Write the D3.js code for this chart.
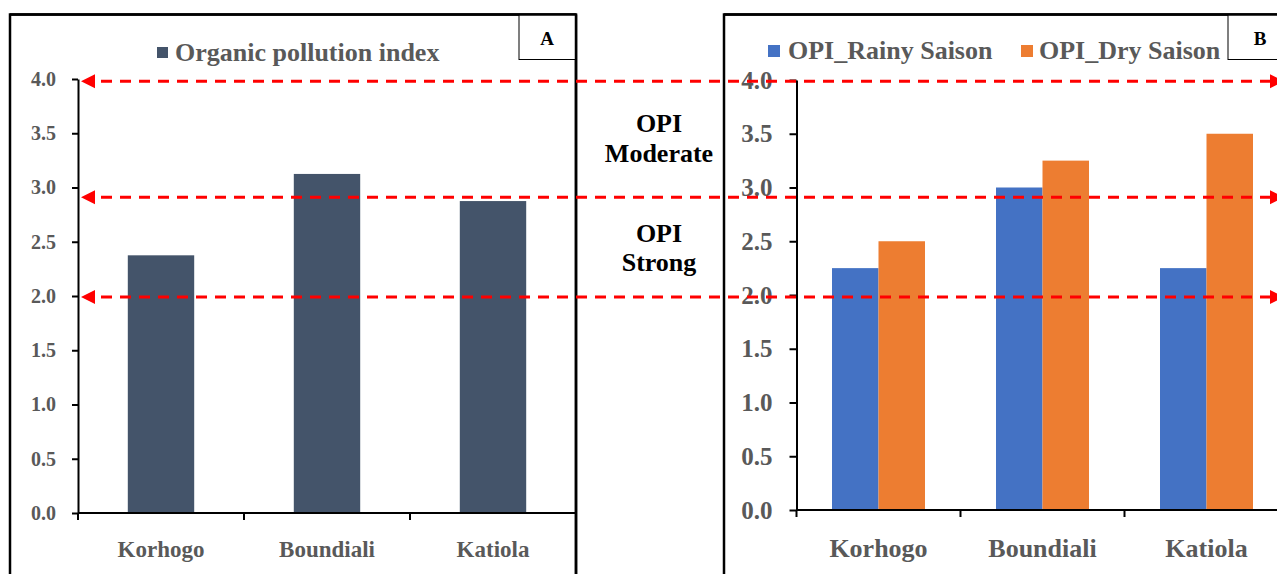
<!DOCTYPE html>
<html>
<head>
<meta charset="utf-8">
<script src="https://cdn.jsdelivr.net/npm/d3@7"></script>
<style>
  html, body { margin: 0; padding: 0; background: #fff; }
  svg { display: block; font-family: "Liberation Serif", "Times New Roman", serif; font-weight: bold; }
</style>
</head>
<body>
<svg id="chart" width="1277" height="574"></svg>
<script>
// ---- data ----
const categories = ["Korhogo", "Boundiali", "Katiola"];
const opiValues = [2.375, 3.125, 2.875];          // panel A
const rainyValues = [2.25, 3.0, 2.25];            // panel B
const drySeasonValues = [2.5, 3.25, 3.5];         // panel B
const seriesNames = ["OPI_Rainy Saison", "OPI_Dry Saison"];
const yTicks = [0, 0.5, 1, 1.5, 2, 2.5, 3, 3.5, 4];
const thresholds = [3.98, 2.91, 1.99];            // red dashed class limits
const zoneLabels = [["OPI", "Moderate"], ["OPI", "Strong"]];
const panelLetters = ["A", "B"];

const gray = "#595959";
const colA = "#44546A";
const colB = ["#4472C4", "#ED7D31"];

const svg = d3.select("#chart");

// ---- frames ----
svg.append("rect").attr("x", 10).attr("y", 14.5).attr("width", 566).attr("height", 600)
  .attr("fill", "none").attr("stroke", "#000").attr("stroke-width", 2.5);
svg.append("rect").attr("x", 724).attr("y", 14.5).attr("width", 600).attr("height", 600)
  .attr("fill", "none").attr("stroke", "#000").attr("stroke-width", 2.5);

// letter boxes
[[519, 547, 57], [1228, 1260, 60]].forEach((b, i) => {
  svg.append("rect").attr("x", b[0]).attr("y", 14.5).attr("width", b[2]).attr("height", 45)
    .attr("fill", "#fff").attr("stroke", "#000").attr("stroke-width", 1);
  svg.append("text").attr("x", b[1]).attr("y", 45).attr("text-anchor", "middle")
    .style("font-size", "19px").attr("fill", "#000").text(panelLetters[i]);
});
// redraw frame edges over boxes
svg.append("line").attr("x1", 10).attr("x2", 576).attr("y1", 14.5).attr("y2", 14.5).attr("stroke", "#000").attr("stroke-width", 2.5);
svg.append("line").attr("x1", 724).attr("x2", 1277).attr("y1", 14.5).attr("y2", 14.5).attr("stroke", "#000").attr("stroke-width", 2.5);
svg.append("line").attr("x1", 576).attr("x2", 576).attr("y1", 14.5).attr("y2", 574).attr("stroke", "#000").attr("stroke-width", 2.5);

// ---- panel A ----
const yA = d3.scaleLinear().domain([0, 4]).range([513, 79]);
const xA = d3.scaleBand().domain(categories).range([78, 576]).paddingInner(0.6).paddingOuter(0.3);

const gA = svg.append("g");
gA.selectAll("rect.bar").data(categories).enter().append("rect")
  .attr("class", "bar")
  .attr("x", d => xA(d))
  .attr("width", xA.bandwidth())
  .attr("y", (d, i) => yA(opiValues[i]))
  .attr("height", (d, i) => yA(0) - yA(opiValues[i]))
  .attr("fill", colA);

function styleAxis(g, fs) {
  g.select(".domain").attr("stroke", "#000").attr("stroke-width", 2);
  g.selectAll(".tick line").attr("stroke", "#000").attr("stroke-width", 2);
  g.selectAll("text").attr("fill", gray).style("font-size", fs + "px")
    .style("font-family", "Liberation Serif").style("font-weight", "bold");
}

gA.append("g").attr("transform", "translate(78,0)")
  .call(d3.axisLeft(yA).tickValues(yTicks).tickFormat(d3.format(".1f")).tickSizeInner(6).tickSizeOuter(0).tickPadding(16))
  .call(g => styleAxis(g, 20));

// x axis: ticks on band boundaries, labels centred
function xAxis(g, x, y0, fs, pad) {
  const step = x.step();
  const x0 = x.range()[0];
  g.append("line").attr("x1", x0).attr("x2", x.range()[1]).attr("y1", y0).attr("y2", y0)
    .attr("stroke", "#000").attr("stroke-width", 2);
  g.selectAll("line.tk").data(d3.range(categories.length + 1)).enter().append("line")
    .attr("class", "tk")
    .attr("x1", i => x0 + i * step).attr("x2", i => x0 + i * step)
    .attr("y1", y0).attr("y2", y0 + 7)
    .attr("stroke", "#000").attr("stroke-width", 2);
  g.selectAll("text.cat").data(categories).enter().append("text")
    .attr("class", "cat")
    .attr("x", d => x(d) + x.bandwidth() / 2)
    .attr("y", y0 + pad)
    .attr("text-anchor", "middle")
    .attr("fill", gray)
    .style("font-size", fs + "px")
    .text(d => d);
}
xAxis(gA.append("g"), xA, yA(0), 23, 44);

// legend A
gA.append("rect").attr("x", 157).attr("y", 47).attr("width", 11).attr("height", 11).attr("fill", colA);
gA.append("text").attr("x", 175).attr("y", 61).attr("fill", gray).style("font-size", "26px").text("Organic pollution index");

// ---- panel B ----
const yB = d3.scaleLinear().domain([0, 4]).range([510, 80]);
const xB = d3.scaleBand().domain(categories).range([796.5, 1288.5]).paddingInner(0.433).paddingOuter(0.2165);
const xSub = d3.scaleBand().domain(seriesNames).range([0, xB.bandwidth()]);
const seriesValues = [rainyValues, drySeasonValues];

const gB = svg.append("g");
seriesNames.forEach((s, si) => {
  gB.selectAll("rect.s" + si).data(categories).enter().append("rect")
    .attr("class", "s" + si)
    .attr("x", d => xB(d) + xSub(s))
    .attr("width", xSub.bandwidth())
    .attr("y", (d, i) => yB(seriesValues[si][i]))
    .attr("height", (d, i) => yB(0) - yB(seriesValues[si][i]))
    .attr("fill", colB[si]);
});

gB.append("g").attr("transform", "translate(796.5,0)")
  .call(d3.axisLeft(yB).tickValues(yTicks).tickFormat(d3.format(".1f")).tickSizeInner(7).tickSizeOuter(0).tickPadding(17))
  .call(g => styleAxis(g, 25));

xAxis(gB.append("g"), xB, yB(0), 26, 47);

// legend B
const legX = [[768, 788], [1021, 1039]];
seriesNames.forEach((s, si) => {
  gB.append("rect").attr("x", legX[si][0]).attr("y", 45).attr("width", 12).attr("height", 12).attr("fill", colB[si]);
  gB.append("text").attr("x", legX[si][1]).attr("y", 59).attr("fill", gray).style("font-size", "26px").text(s);
});

// ---- threshold lines ----
const gT = svg.append("g");
thresholds.forEach(t => {
  const y = yA(t);
  gT.append("line").attr("x1", 95).attr("x2", 1270).attr("y1", y).attr("y2", y)
    .attr("stroke", "#FF0000").attr("stroke-width", 3).attr("stroke-dasharray", "11,8")
    .attr("stroke-dashoffset", -6);
  gT.append("path").attr("d", `M81,${y} L95,${y - 7} L95,${y + 7} Z`).attr("fill", "#FF0000");
  gT.append("path").attr("d", `M1270,${y - 7} L1284,${y} L1270,${y + 7} Z`).attr("fill", "#FF0000");
});

// zone labels
const zoneY = [[132, 162], [242, 271]];
zoneLabels.forEach((lines, zi) => {
  lines.forEach((l, li) => {
    svg.append("text").attr("x", 659).attr("y", zoneY[zi][li]).attr("text-anchor", "middle")
      .attr("fill", "#000").style("font-size", "26px").text(l);
  });
});
</script>
</body>
</html>
